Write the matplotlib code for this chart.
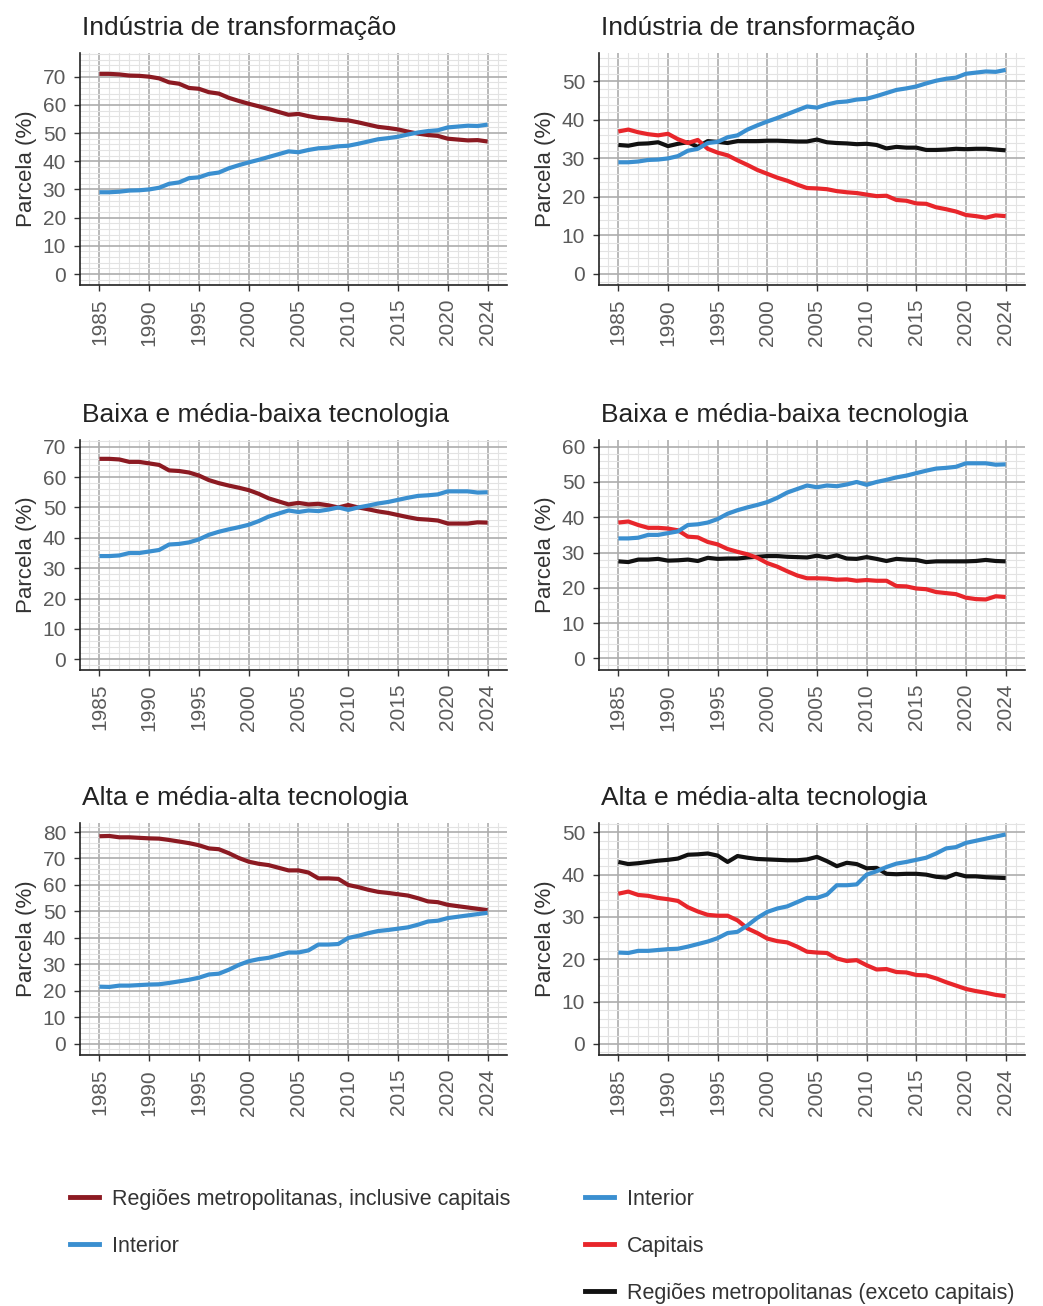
import matplotlib.pyplot as plt
from matplotlib.lines import Line2D
from matplotlib.ticker import MultipleLocator

plt.rcParams['font.family'] = ['Liberation Sans', 'DejaVu Sans']

years = list(range(1985, 2025))
year_ticks = [1985, 1990, 1995, 2000, 2005, 2010, 2015, 2020, 2024]

# Indústria de transformação
ind_interior = [29.0, 29.0, 29.2, 29.6, 29.7, 30.0, 30.6, 32.0, 32.5, 34.0,
                34.3, 35.5, 36.0, 37.5, 38.6, 39.6, 40.5, 41.5, 42.5, 43.5,
                43.2, 44.0, 44.6, 44.8, 45.3, 45.5, 46.2, 47.0, 47.8, 48.2,
                48.7, 49.5, 50.2, 50.7, 51.0, 52.0, 52.3, 52.6, 52.5, 53.0]
ind_metro_incl = [71.0, 71.0, 70.8, 70.4, 70.3, 70.0, 69.4, 68.0, 67.5, 66.0,
                  65.7, 64.5, 64.0, 62.5, 61.4, 60.4, 59.5, 58.5, 57.5, 56.5,
                  56.8, 56.0, 55.4, 55.2, 54.7, 54.5, 53.8, 53.0, 52.2, 51.8,
                  51.3, 50.5, 49.8, 49.3, 49.0, 48.0, 47.7, 47.4, 47.5, 47.0]
ind_capitais = [37.0, 37.5, 36.8, 36.3, 36.0, 36.4, 35.0, 34.0, 34.8, 32.5,
                31.5, 30.8, 29.5, 28.3, 27.0, 26.0, 25.0, 24.2, 23.2, 22.3,
                22.2, 22.0, 21.5, 21.2, 21.0, 20.6, 20.2, 20.3, 19.2, 19.0,
                18.3, 18.2, 17.3, 16.8, 16.2, 15.3, 15.0, 14.6, 15.2, 15.0]
ind_metro_excl = [33.5, 33.3, 33.8, 33.9, 34.2, 33.2, 33.8, 34.2, 33.0, 34.5,
                  34.3, 34.0, 34.5, 34.5, 34.5, 34.6, 34.6, 34.5, 34.4, 34.4,
                  34.9, 34.2, 34.0, 33.9, 33.7, 33.8, 33.5, 32.6, 33.0, 32.8,
                  32.8, 32.2, 32.2, 32.3, 32.5, 32.4, 32.5, 32.5, 32.3, 32.1]

# Baixa e média-baixa tecnologia
baixa_interior = [34.0, 34.0, 34.2, 35.0, 35.0, 35.5, 36.0, 37.8, 38.0, 38.5,
                  39.5, 41.0, 42.0, 42.8, 43.5, 44.3, 45.5, 47.0, 48.0, 49.0,
                  48.5, 49.0, 48.8, 49.3, 50.0, 49.2, 50.0, 50.6, 51.3, 51.8,
                  52.5, 53.2, 53.8, 54.0, 54.3, 55.3, 55.3, 55.3, 54.9, 55.0]
baixa_metro_incl = [66.0, 66.0, 65.8, 65.0, 65.0, 64.5, 64.0, 62.2, 62.0, 61.5,
                    60.5, 59.0, 58.0, 57.2, 56.5, 55.7, 54.5, 53.0, 52.0, 51.0,
                    51.5, 51.0, 51.2, 50.7, 50.0, 50.8, 50.0, 49.4, 48.7, 48.2,
                    47.5, 46.8, 46.2, 46.0, 45.7, 44.7, 44.7, 44.7, 45.1, 45.0]
baixa_capitais = [38.5, 38.8, 37.8, 37.0, 37.0, 36.8, 36.3, 34.5, 34.3, 33.0,
                  32.3, 31.0, 30.2, 29.5, 28.5, 27.0, 26.0, 24.7, 23.5, 22.7,
                  22.7, 22.6, 22.3, 22.4, 22.0, 22.2, 22.0, 22.0, 20.5, 20.4,
                  19.8, 19.6, 18.8, 18.5, 18.2, 17.2, 16.8, 16.7, 17.6, 17.4]
baixa_metro_excl = [27.5, 27.3, 28.0, 28.0, 28.2, 27.7, 27.8, 28.0, 27.6, 28.5,
                    28.2, 28.3, 28.3, 28.6, 28.8, 29.0, 29.0, 28.8, 28.7, 28.6,
                    29.1, 28.6, 29.2, 28.3, 28.2, 28.7, 28.2, 27.6, 28.2, 28.0,
                    27.9, 27.3, 27.5, 27.5, 27.5, 27.5, 27.6, 27.9, 27.6, 27.5]

# Alta e média-alta tecnologia
alta_interior = [21.6, 21.5, 22.0, 22.0, 22.2, 22.4, 22.5, 23.0, 23.6, 24.2,
                 25.0, 26.2, 26.5, 28.0, 29.8, 31.2, 32.0, 32.5, 33.5, 34.5,
                 34.5, 35.3, 37.5, 37.5, 37.7, 40.0, 40.8, 41.8, 42.6, 43.0,
                 43.5, 44.0, 45.0, 46.2, 46.5, 47.5, 48.0, 48.5, 49.0, 49.5]
alta_metro_incl = [78.4, 78.5, 78.0, 78.0, 77.8, 77.6, 77.5, 77.0, 76.4, 75.8,
                   75.0, 73.8, 73.5, 72.0, 70.2, 68.8, 68.0, 67.5, 66.5, 65.5,
                   65.5, 64.7, 62.5, 62.5, 62.3, 60.0, 59.2, 58.2, 57.4, 57.0,
                   56.5, 56.0, 55.0, 53.8, 53.5, 52.5, 52.0, 51.5, 51.0, 50.5]
alta_capitais = [35.5, 36.0, 35.2, 35.0, 34.5, 34.2, 33.8, 32.3, 31.3, 30.5,
                 30.3, 30.3, 29.2, 27.3, 26.2, 24.9, 24.3, 24.0, 23.0, 21.8,
                 21.6, 21.5, 20.2, 19.6, 19.8, 18.6, 17.6, 17.7, 17.0, 16.9,
                 16.3, 16.2, 15.5, 14.6, 13.8, 13.0, 12.5, 12.1, 11.6, 11.3]
alta_metro_excl = [43.0, 42.5, 42.7, 43.0, 43.3, 43.5, 43.8, 44.7, 44.8, 45.0,
                   44.5, 43.0, 44.4, 44.0, 43.7, 43.6, 43.5, 43.4, 43.4, 43.6,
                   44.2, 43.2, 42.0, 42.8, 42.5, 41.5, 41.6, 40.2, 40.1, 40.2,
                   40.2, 40.0, 39.5, 39.3, 40.2, 39.6, 39.6, 39.4, 39.3, 39.2]

DARKRED = '#8c1a22'
BLUE = '#3a8fd0'
RED = '#e8262b'
BLACK = '#111111'

W, H = 1043, 1306
fig = plt.figure(figsize=(W / 100, H / 100), dpi=100)


def add_panel(left, top, right, bottom):
  return fig.add_axes([left / W, 1 - bottom / H, (right - left) / W, (bottom - top) / H])


# (title, left px, top px, right px, bottom px, ylim, ytop, series)
panels = [
  ('Indústria de transformação', 80, 53, 507, 285, (-3.9, 78.4), 70,
   [(ind_metro_incl, DARKRED), (ind_interior, BLUE)]),
  ('Indústria de transformação', 599, 53, 1025, 285, (-2.9, 57.4), 50,
   [(ind_metro_excl, BLACK), (ind_capitais, RED), (ind_interior, BLUE)]),
  ('Baixa e média-baixa tecnologia', 80, 440, 507, 670, (-3.5, 72.2), 70,
   [(baixa_metro_incl, DARKRED), (baixa_interior, BLUE)]),
  ('Baixa e média-baixa tecnologia', 599, 440, 1025, 670, (-3.3, 61.9), 60,
   [(baixa_metro_excl, BLACK), (baixa_capitais, RED), (baixa_interior, BLUE)]),
  ('Alta e média-alta tecnologia', 80, 823, 507, 1055, (-4.2, 83.4), 80,
   [(alta_metro_incl, DARKRED), (alta_interior, BLUE)]),
  ('Alta e média-alta tecnologia', 599, 823, 1025, 1055, (-2.6, 52.2), 50,
   [(alta_metro_excl, BLACK), (alta_capitais, RED), (alta_interior, BLUE)]),
]

for title, l, t, r, b, ylim, ytop, series in panels:
  ax = add_panel(l, t, r, b)
  ax.set_xlim(1983.05, 2025.95)
  ax.set_ylim(*ylim)
  ax.set_xticks(year_ticks)
  ax.set_yticks(range(0, ytop + 1, 10))
  ax.xaxis.set_minor_locator(MultipleLocator(1))
  ax.yaxis.set_minor_locator(MultipleLocator(2))
  ax.grid(which='major', color='#adadad', linewidth=1.2)
  ax.grid(which='minor', color='#e3e3e3', linewidth=0.8)
  ax.set_axisbelow(True)
  for data, color in series:
    ax.plot(years, data, color=color, linewidth=3.0, solid_capstyle='butt')
  for side in ['top', 'right']:
    ax.spines[side].set_visible(False)
  for side in ['left', 'bottom']:
    ax.spines[side].set_color('#222222')
    ax.spines[side].set_linewidth(1.2)
  ax.tick_params(which='major', length=4, width=1.0, color='#333333',
                 labelsize=15, labelcolor='#5a5a5a', pad=6)
  ax.tick_params(which='minor', length=0)
  for lab in ax.get_xticklabels():
    lab.set_rotation(90)
  ax.set_ylabel('Parcela (%)', fontsize=16, color='#333333', labelpad=4)
  fig.text((l + 2) / W, 1 - (t - 18) / H, title, fontsize=19,
           color='#222222', ha='left', va='baseline')

left_handles = [Line2D([], [], color=DARKRED, linewidth=3.5),
                Line2D([], [], color=BLUE, linewidth=3.5)]
left_labels = ['Regiões metropolitanas, inclusive capitais', 'Interior']
right_handles = [Line2D([], [], color=BLUE, linewidth=3.5),
                 Line2D([], [], color=RED, linewidth=3.5),
                 Line2D([], [], color=BLACK, linewidth=3.5)]
right_labels = ['Interior', 'Capitais', 'Regiões metropolitanas (exceto capitais)']

leg_kw = dict(frameon=False, fontsize=15.5, handlelength=1.35, handletextpad=0.6,
              labelspacing=1.2, borderpad=0, borderaxespad=0,
              loc='upper left', labelcolor='#333333')
fig.legend(left_handles, left_labels,
           bbox_to_anchor=(70 / W, 1 - 1189 / H), **leg_kw)
fig.legend(right_handles, right_labels,
           bbox_to_anchor=(585 / W, 1 - 1189 / H), **leg_kw)

fig.savefig('out.png', dpi=100)
